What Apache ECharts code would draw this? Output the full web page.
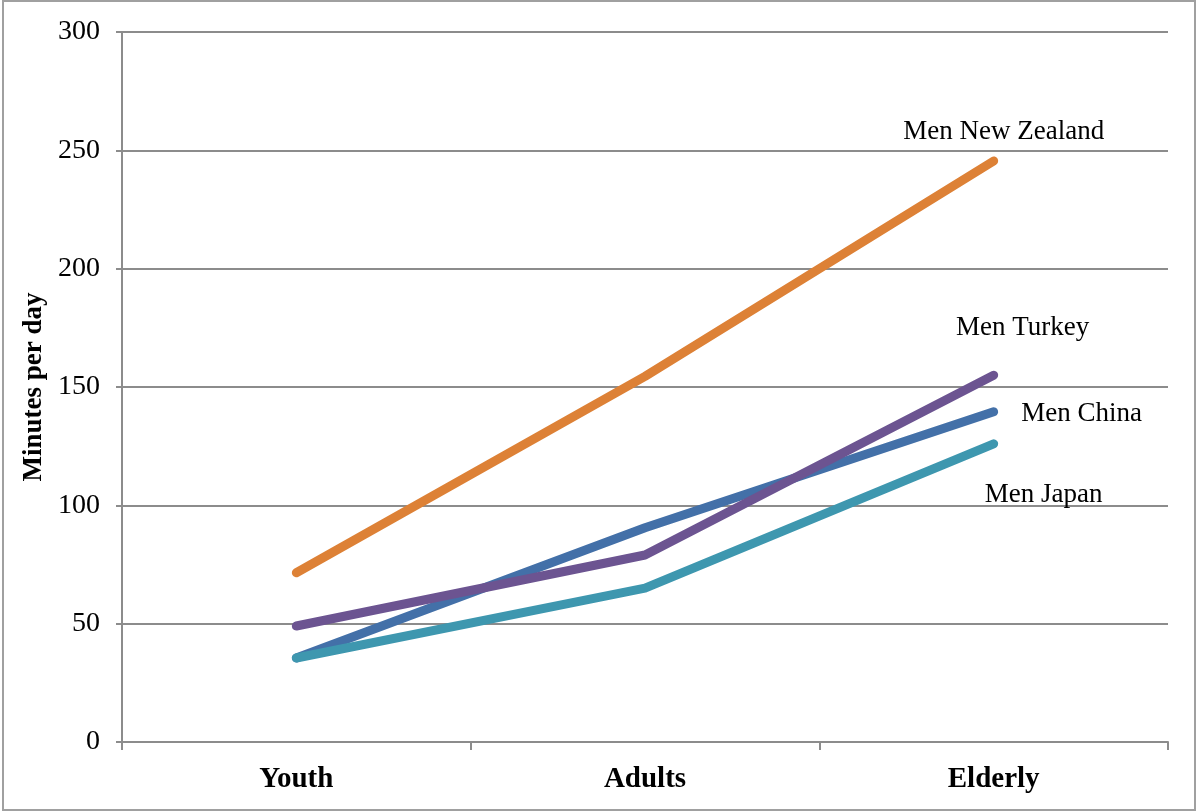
<!DOCTYPE html>
<html><head><meta charset="utf-8">
<script src="https://cdn.jsdelivr.net/npm/echarts@6/dist/echarts.min.js"></script>
<style>html,body{margin:0;padding:0;background:#fff}#c{width:1199px;height:812px}</style>
</head><body><div id="c"></div>
<script>
const categories = ['Youth', 'Adults', 'Elderly'];
const yTicks = [0, 50, 100, 150, 200, 250, 300];
const seriesNames = ['Men China', 'Men Japan', 'Men Turkey', 'Men New Zealand'];
const menChina = [35.5, 90.5, 139.5];
const menJapan = [35.5, 65, 126];
const menTurkey = [49, 79, 155];
const menNewZealand = [71.5, 154.5, 245.5];

const FONT = '"Liberation Serif", "DejaVu Serif", serif';
const colors = ['#4370A8', '#3E97AF', '#6C5491', '#DD8136'];
const labelOffsets = [[80, 2], [42, 51], [21, -47], [2, -29]];
const dataSets = [menChina, menJapan, menTurkey, menNewZealand];

const chart = echarts.init(document.getElementById('c'), null, {renderer: 'canvas'});
chart.setOption({
  animation: false,
  backgroundColor: '#fff',
  grid: {left: 122, right: 31, top: 32, bottom: 70, containLabel: false},
  graphic: [{type: 'rect', shape: {x: 3, y: 1, width: 1192, height: 809},
    style: {fill: 'none', stroke: '#a0a0a0', lineWidth: 2}, silent: true}],
  xAxis: {
    type: 'category', data: categories, boundaryGap: true,
    axisLine: {show: true, lineStyle: {color: '#8c8c8c', width: 2}},
    axisTick: {show: true, length: 8, alignWithLabel: false, lineStyle: {color: '#8c8c8c', width: 2}},
    axisLabel: {margin: 23, color: '#000', fontFamily: FONT, fontWeight: 'bold', fontSize: 29},
    splitLine: {show: false}
  },
  yAxis: {
    type: 'value', min: yTicks[0], max: yTicks[yTicks.length - 1], interval: yTicks[1] - yTicks[0],
    name: 'Minutes per day', nameLocation: 'middle', nameGap: 74, nameRotate: 90,
    nameTextStyle: {fontFamily: FONT, fontWeight: 'bold', fontSize: 27, color: '#000'},
    axisLine: {show: true, lineStyle: {color: '#8c8c8c', width: 2}},
    axisTick: {show: true, inside: false, length: 6, lineStyle: {color: '#8c8c8c', width: 2}},
    axisLabel: {margin: 22, color: '#000', fontFamily: FONT, fontSize: 28},
    splitLine: {show: true, lineStyle: {color: '#8c8c8c', width: 2}}
  },
  series: seriesNames.map((name, i) => ({
    name, type: 'line', data: dataSets[i], symbol: 'none', z: 2 + i,
    lineStyle: {color: colors[i], width: 9, cap: 'round', join: 'round'},
    itemStyle: {color: colors[i]},
    endLabel: {
      show: true, formatter: name, position: 'inside', align: 'center', verticalAlign: 'middle',
      offset: labelOffsets[i], color: '#000', fontFamily: FONT, fontSize: 27
    }
  }))
});
</script></body></html>
